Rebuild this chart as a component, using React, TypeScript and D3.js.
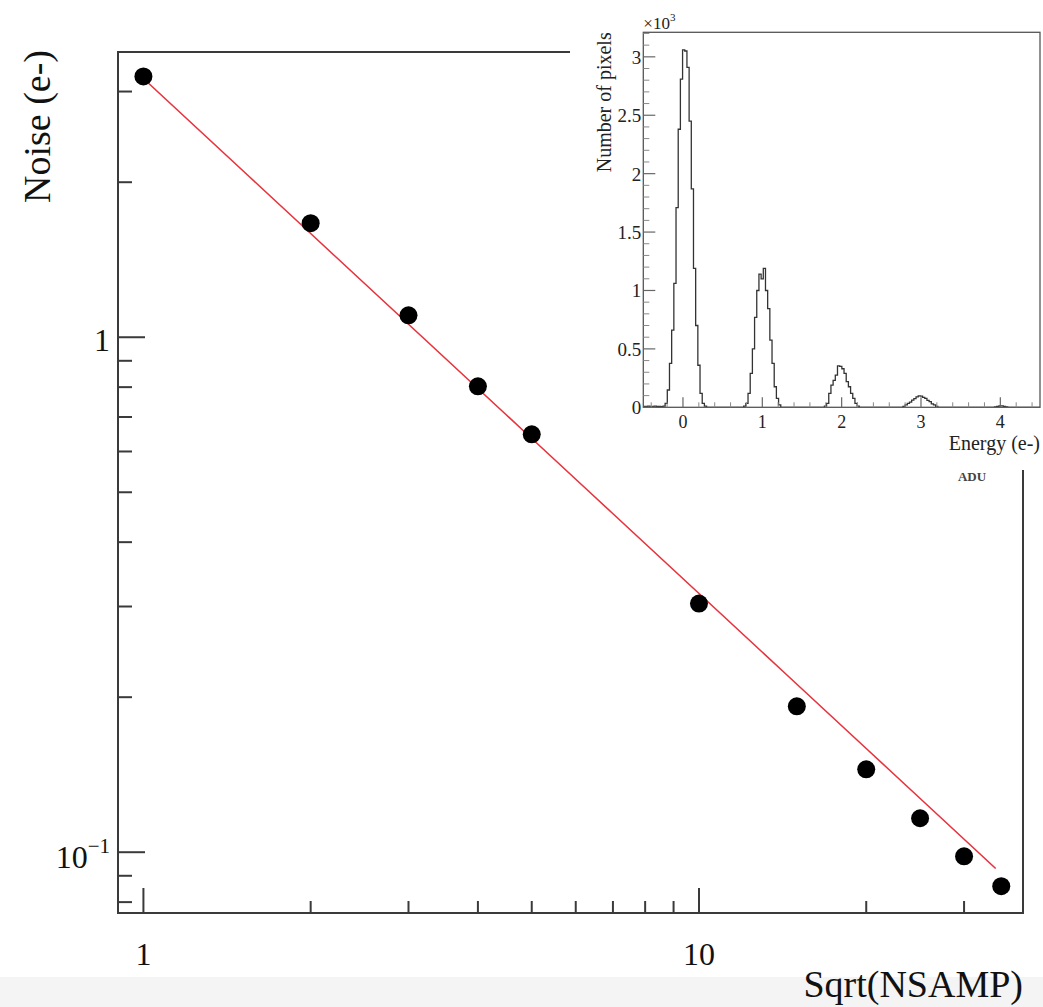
import React from "react";
import * as d3 from "d3";

// ---------- main graph data ----------
const sqrtNsamp = [1, 2, 3, 4, 5, 10, 15, 20, 25, 30, 35];
const noise = [3.21, 1.665, 1.103, 0.803, 0.648, 0.304, 0.192, 0.1449, 0.1164, 0.0982, 0.0859];
const fitAmplitude = 3.18;
const fitExponent = -1.0;
const fitRange = [1, 34.2];

const xMajorTicks = [1, 10];
const xMinorTicks = [2, 3, 4, 5, 6, 7, 8, 9, 20, 30];
const yMajorTicks = [0.1, 1];
const yMinorTicks = [0.08, 0.09, 0.2, 0.3, 0.4, 0.5, 0.6, 0.7, 0.8, 0.9, 2, 3];

// ---------- inset histogram data ----------
const histStart = -0.5;
const histBinWidth = 0.0275;
const histBinCount = 182;
const tailFirstBin = 0;
const tailCounts = [8, 8, 10, 8, 8, 10, 8, 8];
const peak0FirstBin = 8;
const peak0Counts = [5, 10, 34, 148, 376, 660, 1060, 1710, 2380, 2810, 3060, 3050, 2910, 2450, 1870, 1190, 700, 360, 120, 34, 10];
const peak1FirstBin = 46;
const peak1Counts = [10, 34, 120, 290, 500, 770, 1000, 1140, 1100, 1190, 1000, 845, 575, 376, 176, 77, 20];
const peak2FirstBin = 83;
const peak2Counts = [10, 34, 120, 190, 230, 276, 355, 350, 330, 290, 220, 176, 120, 77, 34, 10];
const peak3FirstBin = 119;
const peak3Counts = [8, 20, 34, 45, 62, 75, 90, 97, 95, 85, 77, 60, 48, 30, 20, 8];
const peak4FirstBin = 161;
const peak4Counts = [4, 8, 12, 12, 8, 4];

const insetXMajor = [0, 1, 2, 3, 4];
const insetYMajor = [0, 500, 1000, 1500, 2000, 2500, 3000];

const SERIF = "'Liberation Serif', 'DejaVu Serif', 'Times New Roman', serif";

export default function App() {
  const W = 1043, H = 1007;
  // main frame
  const L = 118, R = 1023, T = 52, B = 913;
  const x = d3.scaleLog().domain([0.9, 38.3]).range([L, R]);
  const y = d3.scaleLog().domain([0.0762, 3.58]).range([B, T]);

  const fitPts = d3.range(0, 41).map((i) => {
    const xv = fitRange[0] * Math.pow(fitRange[1] / fitRange[0], i / 40);
    return [xv, fitAmplitude * Math.pow(xv, fitExponent)] as [number, number];
  });
  const fitLine = d3
    .line<[number, number]>()
    .x((d) => x(d[0]))
    .y((d) => y(d[1]));

  // inset
  const iL = 643.3, iR = 1040, iT = 32.3, iB = 407.3;
  const ix = d3.scaleLinear().domain([-0.5, 4.5]).range([iL, iR]);
  const iy = d3.scaleLinear().domain([0, 3210]).range([iB, iT]);

  const counts = new Array(histBinCount).fill(0);
  const place = (first: number, arr: number[]) => arr.forEach((v, i) => (counts[first + i] = v));
  place(tailFirstBin, tailCounts);
  place(peak0FirstBin, peak0Counts);
  place(peak1FirstBin, peak1Counts);
  place(peak2FirstBin, peak2Counts);
  place(peak3FirstBin, peak3Counts);
  place(peak4FirstBin, peak4Counts);
  const histPts: [number, number][] = counts.map((c, i) => [histStart + i * histBinWidth, c]);
  histPts.push([histStart + histBinCount * histBinWidth, counts[histBinCount - 1]]);
  const histLine = d3
    .line<[number, number]>()
    .x((d) => ix(d[0]))
    .y((d) => iy(d[1]))
    .curve(d3.curveStepAfter);

  const insetXMinor = d3.range(-0.4, 4.5, 0.2).filter((v) => Math.abs(v - Math.round(v)) > 0.01);
  const insetYMinor = d3.range(100, 3210, 100).filter((v) => v % 500 !== 0);

  const axisColor = "#3a3a3a";

  return (
    <svg
      width={W}
      height={H}
      style={{ position: "absolute", left: 0, top: 0, background: "#fff" }}
      fontFamily={SERIF}
    >
      <rect x={0} y={0} width={W} height={H} fill="#fff" />
      <rect x={0} y={977} width={W} height={H - 977} fill="#f4f4f4" />

      {/* main frame */}
      <rect x={L} y={T} width={R - L} height={B - T} fill="none" stroke={axisColor} strokeWidth={2} />

      {/* y ticks */}
      {yMajorTicks.map((t) => (
        <line key={"ym" + t} x1={L} x2={L + 27} y1={y(t)} y2={y(t)} stroke={axisColor} strokeWidth={2} />
      ))}
      {yMinorTicks.map((t) => (
        <line key={"yn" + t} x1={L} x2={L + 14} y1={y(t)} y2={y(t)} stroke={axisColor} strokeWidth={2} />
      ))}
      {/* x ticks */}
      {xMajorTicks.map((t) => (
        <line key={"xm" + t} x1={x(t)} x2={x(t)} y1={B} y2={B - 25} stroke={axisColor} strokeWidth={2} />
      ))}
      {xMinorTicks.map((t) => (
        <line key={"xn" + t} x1={x(t)} x2={x(t)} y1={B} y2={B - 12} stroke={axisColor} strokeWidth={2} />
      ))}

      {/* tick labels */}
      <text x={110} y={y(1) + 14} fontSize={32} textAnchor="end" fill="#111">1</text>
      <text x={110} y={y(0.1) + 16} fontSize={32} textAnchor="end" fill="#111">
        10
        <tspan fontSize={21} dy={-15}>−1</tspan>
      </text>
      {xMajorTicks.map((t) => (
        <text key={"xl" + t} x={x(t)} y={965} fontSize={32} textAnchor="middle" fill="#111">
          {t}
        </text>
      ))}

      {/* axis titles */}
      <text x={R} y={997} fontSize={38} textAnchor="end" fill="#111">Sqrt(NSAMP)</text>
      <text transform={`translate(50,50) rotate(-90)`} fontSize={38} textAnchor="end" fill="#111">
        Noise (e-)
      </text>

      {/* fit */}
      <path d={fitLine(fitPts) || ""} fill="none" stroke="#e8323c" strokeWidth={1.6} />
      {/* points */}
      {sqrtNsamp.map((xv, i) => (
        <circle key={"p" + i} cx={x(xv)} cy={y(noise[i])} r={9} fill="#000" />
      ))}

      {/* inset pad */}
      <rect x={570} y={0} width={W - 570} height={470} fill="#fff" />
      <text x={972} y={481} fontSize={13} textAnchor="middle" fill="#444" fontWeight="bold">ADU</text>

      <defs>
        <clipPath id="insetClip">
          <rect x={iL} y={iT} width={iR - iL} height={iB - iT} />
        </clipPath>
      </defs>
      <path
        d={histLine(histPts) || ""}
        fill="none"
        stroke="#333"
        strokeWidth={1.3}
        clipPath="url(#insetClip)"
      />
      <rect x={iL} y={iT} width={iR - iL} height={iB - iT} fill="none" stroke="#555" strokeWidth={1.3} />

      {insetYMajor.map((t) => (
        <line key={"iym" + t} x1={iL} x2={iL + 12} y1={iy(t)} y2={iy(t)} stroke="#666" strokeWidth={1.2} />
      ))}
      {insetYMinor.map((t) => (
        <line key={"iyn" + t} x1={iL} x2={iL + 6} y1={iy(t)} y2={iy(t)} stroke="#888" strokeWidth={1} />
      ))}
      {insetXMajor.map((t) => (
        <line key={"ixm" + t} x1={ix(t)} x2={ix(t)} y1={iB} y2={iB - 10} stroke="#666" strokeWidth={1.2} />
      ))}
      {insetXMinor.map((t) => (
        <line key={"ixn" + t} x1={ix(t)} x2={ix(t)} y1={iB} y2={iB - 5} stroke="#888" strokeWidth={1} />
      ))}

      {insetYMajor.map((t) => (
        <text key={"iyl" + t} x={iL - 2} y={iy(t) + 7} fontSize={19} textAnchor="end" fill="#222">
          {t / 1000}
        </text>
      ))}
      {insetXMajor.map((t) => (
        <text key={"ixl" + t} x={ix(t)} y={428} fontSize={18} textAnchor="middle" fill="#222">
          {t}
        </text>
      ))}
      <text x={iL} y={29} fontSize={17} fill="#222">
        ×10
        <tspan fontSize={11} dy={-8}>3</tspan>
      </text>
      <text x={iR} y={450} fontSize={20} textAnchor="end" fill="#222">Energy (e-)</text>
      <text transform={`translate(611,${iT}) rotate(-90)`} fontSize={20} textAnchor="end" fill="#222">
        Number of pixels
      </text>
    </svg>
  );
}
